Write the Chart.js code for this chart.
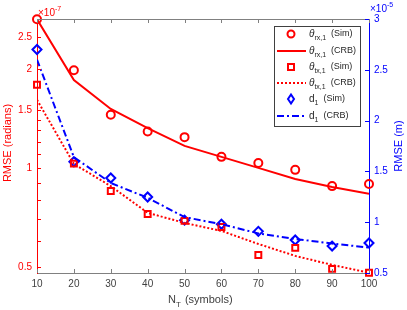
<!DOCTYPE html>
<html>
<head>
<meta charset="utf-8">
<script src="https://cdn.jsdelivr.net/npm/chart.js@4"></script>
<style>
  html, body { margin: 0; padding: 0; background: #fff; }
  #wrap { width: 407px; height: 310px; }
</style>
</head>
<body>
<div id="wrap"><canvas id="c" width="407" height="310"></canvas></div>
<script>
// N_T values
let nt = [10, 20, 30, 40, 50, 60, 70, 80, 90, 100];

// theta rx,1  (x 1e-7 rad)
let rxSim = [2.83, 1.98, 1.45, 1.29, 1.24, 1.08, 1.035, 0.986, 0.88, 0.893];
let rxCrb = [2.83, 1.85, 1.51, 1.32, 1.166, 1.08, 1.0, 0.925, 0.875, 0.834];

// theta tx,1  (x 1e-7 rad)
let txSim = [1.79, 1.03, 0.85, 0.724, 0.69, 0.661, 0.543, 0.571, 0.493, 0.48];
let txCrb = [1.61, 1.028, 0.88, 0.73, 0.68, 0.643, 0.587, 0.54, 0.507, 0.48];

// d1  (x 1e-5 m)
let dSim = [2.70, 1.595, 1.435, 1.248, 1.02, 0.98, 0.91, 0.825, 0.765, 0.795];
let dCrb = [2.60, 1.64, 1.386, 1.24, 1.05, 0.98, 0.89, 0.835, 0.79, 0.75];

let leftTicks = [0.5, 1, 1.5, 2, 2.5];
let leftMinor = [0.6, 0.7, 0.8, 0.9, 1.1, 1.2, 1.3, 1.4];
let rightTicks = [0.5, 1, 1.5, 2, 2.5, 3];

const RED = '#ff0000';
const BLUE = '#0000ff';
const FONT = '"Liberation Sans", Arial, sans-serif';

function pts(ys){
  let out = [];
  for(let i = 0; i < nt.length; i++){
    out.push({x: nt[i], y: ys[i]});
  }
  return out;
}

// inside tick marks, top border, titles, exponent labels, legend
const decor = {
  id: 'decor',
  afterDraw(chart){
    const ctx = chart.ctx;
    const a = chart.chartArea;
    const xs = chart.scales.x, yl = chart.scales.y, yr = chart.scales.y2;
    ctx.save();

    // top border
    ctx.strokeStyle = '#808080';
    ctx.lineWidth = 1;
    ctx.beginPath();
    ctx.moveTo(a.left, a.top + 0.5);
    ctx.lineTo(a.right, a.top + 0.5);
    ctx.stroke();

    // x ticks bottom and top
    ctx.strokeStyle = '#808080';
    nt.forEach(v => {
      let px = Math.round(xs.getPixelForValue(v)) + 0.5;
      ctx.beginPath();
      ctx.moveTo(px, a.bottom); ctx.lineTo(px, a.bottom - 4);
      ctx.moveTo(px, a.top); ctx.lineTo(px, a.top + 4);
      ctx.stroke();
    });

    // left ticks
    ctx.strokeStyle = RED;
    leftTicks.concat(leftMinor).forEach(v => {
      let py = Math.round(yl.getPixelForValue(v)) + 0.5;
      ctx.beginPath();
      ctx.moveTo(a.left, py); ctx.lineTo(a.left + 4, py);
      ctx.stroke();
    });

    // right ticks
    ctx.strokeStyle = BLUE;
    rightTicks.forEach(v => {
      let py = Math.round(yr.getPixelForValue(v)) + 0.5;
      ctx.beginPath();
      ctx.moveTo(a.right, py); ctx.lineTo(a.right - 4, py);
      ctx.stroke();
    });

    // exponent labels
    ctx.textBaseline = 'alphabetic';
    ctx.textAlign = 'left';
    ctx.fillStyle = RED;
    ctx.font = '10px ' + FONT;
    ctx.fillText('\u00d710', a.left + 1, a.top - 3);
    ctx.font = '7px ' + FONT;
    ctx.fillText('-7', a.left + 18, a.top - 8);
    ctx.fillStyle = BLUE;
    ctx.font = '10px ' + FONT;
    ctx.fillText('\u00d710', a.right + 1, a.top - 7);
    ctx.font = '7px ' + FONT;
    ctx.fillText('-5', a.right + 18, a.top - 12);

    // y titles
    ctx.font = '11px ' + FONT;
    ctx.textAlign = 'center';
    ctx.textBaseline = 'middle';
    ctx.fillStyle = RED;
    ctx.save();
    ctx.translate(8, (a.top + a.bottom) / 2 - 3);
    ctx.rotate(-Math.PI / 2);
    ctx.fillText('RMSE (radians)', 0, 0);
    ctx.restore();
    ctx.fillStyle = BLUE;
    ctx.save();
    ctx.translate(399, (a.top + a.bottom) / 2);
    ctx.rotate(-Math.PI / 2);
    ctx.fillText('RMSE (m)', 0, 0);
    ctx.restore();

    // x title N_T (symbols)
    ctx.fillStyle = '#404040';
    ctx.textAlign = 'left';
    ctx.textBaseline = 'alphabetic';
    ctx.font = '11px ' + FONT;
    let tx = 168, ty = 303;
    ctx.fillText('N', tx, ty);
    let w = ctx.measureText('N').width;
    ctx.font = '8px ' + FONT;
    ctx.fillText('T', tx + w, ty + 4);
    let w2 = ctx.measureText('T').width;
    ctx.font = '11px ' + FONT;
    ctx.fillText(' (symbols)', tx + w + w2 + 1, ty);

    // legend
    let bx = 274, by = 26, bw = 86, bh = 100;
    ctx.fillStyle = '#ffffff';
    ctx.fillRect(bx, by, bw, bh);
    ctx.strokeStyle = '#404040';
    ctx.lineWidth = 1;
    ctx.strokeRect(bx + 0.5, by + 0.5, bw, bh);

    let rows = [
      {sym: '\u03b8', sub: 'rx,1', tail: '(Sim)', kind: 'circle', color: RED},
      {sym: '\u03b8', sub: 'rx,1', tail: '(CRB)', kind: 'line', color: RED, dash: []},
      {sym: '\u03b8', sub: 'tx,1', tail: '(Sim)', kind: 'rect', color: RED},
      {sym: '\u03b8', sub: 'tx,1', tail: '(CRB)', kind: 'line', color: RED, dash: [2, 2]},
      {sym: 'd', sub: '1', tail: '(Sim)', kind: 'diamond', color: BLUE},
      {sym: 'd', sub: '1', tail: '(CRB)', kind: 'line', color: BLUE, dash: [7, 3, 2, 3]}
    ];
    let rowY = [34, 51, 67, 83, 99, 116];
    rows.forEach((r, i) => {
      let y = rowY[i];
      ctx.strokeStyle = r.color;
      ctx.lineWidth = 2;
      if(r.kind === 'line'){
        ctx.setLineDash(r.dash);
        ctx.beginPath();
        ctx.moveTo(277, y); ctx.lineTo(306, y);
        ctx.stroke();
        ctx.setLineDash([]);
      } else if(r.kind === 'circle'){
        ctx.beginPath();
        ctx.arc(291, y, 3.5, 0, Math.PI * 2);
        ctx.stroke();
      } else if(r.kind === 'rect'){
        ctx.strokeRect(288, y - 3, 6, 6);
      } else {
        ctx.beginPath();
        ctx.moveTo(291, y - 4.5); ctx.lineTo(294, y);
        ctx.lineTo(291, y + 4.5); ctx.lineTo(288, y);
        ctx.closePath();
        ctx.stroke();
      }
      ctx.fillStyle = '#262626';
      ctx.textBaseline = 'middle';
      ctx.font = (r.sym === 'd' ? '' : 'italic ') + '10px ' + FONT;
      ctx.fillText(r.sym, 309, y);
      let sw = ctx.measureText(r.sym).width;
      ctx.font = '7px ' + FONT;
      ctx.fillText(r.sub, 309 + sw, y + 4);
      let subw = ctx.measureText(r.sub).width;
      ctx.font = '9px ' + FONT;
      ctx.fillText(r.tail, 309 + sw + subw + 5, y);
    });

    ctx.restore();
  }
};

const ctx = document.getElementById('c');

new Chart(ctx, {
  type: 'line',
  data: {
    datasets: [
      { data: pts(rxCrb), yAxisID: 'y', borderColor: RED, borderWidth: 2, pointRadius: 0, tension: 0 },
      { data: pts(txCrb), yAxisID: 'y', borderColor: RED, borderWidth: 2, borderDash: [2, 2], pointRadius: 0, tension: 0 },
      { data: pts(dCrb), yAxisID: 'y2', borderColor: BLUE, borderWidth: 2, borderDash: [7, 3, 2, 3], pointRadius: 0, tension: 0 },
      { data: pts(rxSim), yAxisID: 'y', showLine: false, pointStyle: 'circle', pointRadius: 4, pointBorderWidth: 2,
        pointBorderColor: RED, pointBackgroundColor: 'rgba(0,0,0,0)', clip: false },
      { data: pts(txSim), yAxisID: 'y', showLine: false, pointStyle: 'rect', pointRadius: 4.2, pointBorderWidth: 2,
        pointBorderColor: RED, pointBackgroundColor: 'rgba(0,0,0,0)', clip: false },
      { data: pts(dSim), yAxisID: 'y2', showLine: false, pointStyle: 'rectRot', pointRadius: 4.5, pointBorderWidth: 2,
        pointBorderColor: BLUE, pointBackgroundColor: 'rgba(0,0,0,0)', clip: false }
    ]
  },
  options: {
    responsive: false,
    animation: false,
    layout: { padding: { top: 19, left: 0, right: 0, bottom: 0 } },
    plugins: { legend: { display: false }, tooltip: { enabled: false } },
    scales: {
      x: {
        type: 'linear', min: 10, max: 100,
        afterFit: s => { s.height = 37; },
        ticks: { stepSize: 10, color: '#404040', font: { size: 10, family: FONT }, padding: 5, maxRotation: 0 },
        grid: { display: true, drawOnChartArea: false, drawTicks: false },
        border: { color: '#808080' }
      },
      y: {
        type: 'logarithmic', position: 'left', min: 0.479, max: 2.835,
        afterFit: s => { s.width = 37; },
        afterBuildTicks: s => { s.ticks = leftTicks.map(v => ({ value: v })); },
        ticks: { color: RED, font: { size: 10, family: FONT }, padding: 5, callback: v => String(v) },
        grid: { display: true, drawOnChartArea: false, drawTicks: false },
        border: { color: RED }
      },
      y2: {
        type: 'linear', position: 'right', min: 0.5, max: 3,
        afterFit: s => { s.width = 38; },
        afterBuildTicks: s => { s.ticks = rightTicks.map(v => ({ value: v })); },
        ticks: { color: BLUE, font: { size: 10, family: FONT }, padding: 5, callback: v => String(v) },
        grid: { display: true, drawOnChartArea: false, drawTicks: false },
        border: { color: BLUE }
      }
    }
  },
  plugins: [decor]
});
</script>
</body>
</html>
